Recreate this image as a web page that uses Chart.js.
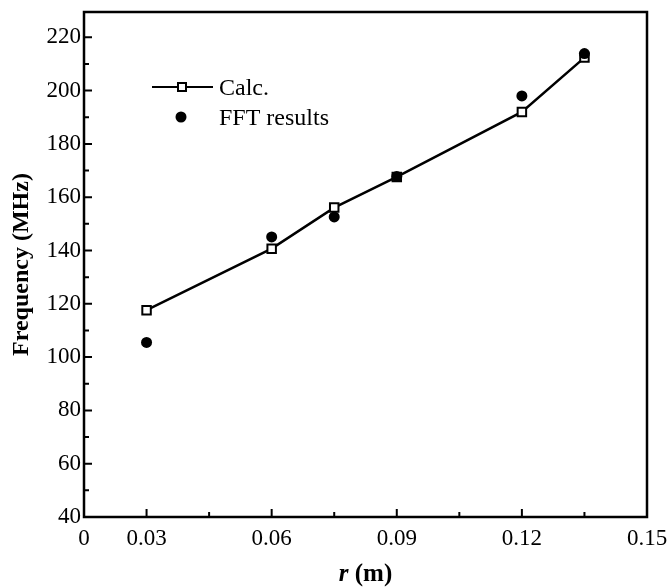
<!DOCTYPE html>
<html>
<head>
<meta charset="utf-8">
<script src="https://cdn.jsdelivr.net/npm/chart.js@4.4.1/dist/chart.umd.min.js"></script>
<style>
    html, body { margin: 0; padding: 0; background: #fff; }
    #wrap { width: 671px; height: 587px; }
</style>
</head>
<body>
<div id="wrap"><canvas id="chart"></canvas></div>
<script>
// datos
const rValues = [0.03, 0.06, 0.075, 0.09, 0.12, 0.135];
const calcFreq = [117.6, 140.7, 156.1, 167.6, 192.0, 212.4];
const fftFreq = [105.5, 145.1, 152.6, 167.8, 198.0, 213.9];

const xTicks = [0.015, 0.03, 0.045, 0.06, 0.075, 0.09, 0.105, 0.12, 0.135, 0.15];
const xTickLabels = ['0', '0.03', '', '0.06', '', '0.09', '', '0.12', '', '0.15'];
const yTicks = [40, 50, 60, 70, 80, 90, 100, 110, 120, 130, 140, 150, 160, 170, 180, 190, 200, 210, 220];
const yTickLabels = ['40', '', '60', '', '80', '', '100', '', '120', '', '140', '', '160', '', '180', '', '200', '', '220'];

const serif = "'Liberation Serif', 'Times New Roman', serif";

// marco, marcas hacia dentro, leyenda y títulos de ejes
const framePlugin = {
    id: 'frame',
    afterDraw(chart) {
        const ctx = chart.ctx;
        const a = chart.chartArea;
        const xs = chart.scales.x;
        const ys = chart.scales.y;
        ctx.save();
        ctx.strokeStyle = '#000';
        ctx.lineWidth = 2.5;
        ctx.strokeRect(a.left, a.top, a.right - a.left, a.bottom - a.top);

        ctx.lineWidth = 2;
        ctx.beginPath();
        xTicks.forEach((v, i) => {
            if (i === 0 || i === xTicks.length - 1) return;
            let px = xs.getPixelForValue(v);
            let len = xTickLabels[i] ? 8 : 5;
            ctx.moveTo(px, a.bottom);
            ctx.lineTo(px, a.bottom - len);
        });
        yTicks.forEach((v, i) => {
            if (i === 0) return;
            let py = ys.getPixelForValue(v);
            let len = yTickLabels[i] ? 8 : 5;
            ctx.moveTo(a.left, py);
            ctx.lineTo(a.left + len, py);
        });
        ctx.stroke();

        // leyenda
        ctx.lineWidth = 2;
        ctx.beginPath();
        ctx.moveTo(152, 87);
        ctx.lineTo(213, 87);
        ctx.stroke();
        ctx.fillStyle = '#fff';
        ctx.fillRect(178, 83, 8, 8);
        ctx.strokeRect(178, 83, 8, 8);
        ctx.fillStyle = '#000';
        ctx.beginPath();
        ctx.arc(181, 117, 5.5, 0, Math.PI * 2);
        ctx.fill();
        ctx.font = "24px " + serif;
        ctx.textBaseline = 'middle';
        ctx.textAlign = 'left';
        ctx.fillText('Calc.', 219, 89);
        ctx.fillText('FFT results', 219, 119);

        // título eje x: r en cursiva
        ctx.font = "bold italic 25px " + serif;
        let w1 = ctx.measureText('r').width;
        ctx.font = "bold 25px " + serif;
        let w2 = ctx.measureText(' (m)').width;
        let cx = (a.left + a.right) / 2;
        let sx = cx - (w1 + w2) / 2;
        ctx.font = "bold italic 25px " + serif;
        ctx.fillText('r', sx, 575);
        ctx.font = "bold 25px " + serif;
        ctx.fillText(' (m)', sx + w1, 575);

        // título eje y
        ctx.translate(22, (a.top + a.bottom) / 2);
        ctx.rotate(-Math.PI / 2);
        ctx.textAlign = 'center';
        ctx.font = "bold 24px " + serif;
        ctx.fillText('Frequency (MHz)', 0, 0);
        ctx.restore();
    }
};

let ctxChart = document.getElementById('chart').getContext('2d');
new Chart(ctxChart, {
    type: 'line',
    data: {
        datasets: [{
            label: 'FFT results',
            data: rValues.map((r, i) => ({ x: r, y: fftFreq[i] })),
            showLine: false,
            pointStyle: 'circle',
            pointRadius: 5.5,
            pointBorderWidth: 0,
            pointBackgroundColor: '#000',
            pointBorderColor: '#000',
            order: 0
        }, {
            label: 'Calc.',
            data: rValues.map((r, i) => ({ x: r, y: calcFreq[i] })),
            borderColor: '#000',
            borderWidth: 2.5,
            pointStyle: 'rect',
            pointRadius: 6,
            pointBorderWidth: 2,
            pointBackgroundColor: '#fff',
            pointBorderColor: '#000',
            tension: 0,
            order: 1
        }]
    },
    options: {
        responsive: true,
        maintainAspectRatio: false,
        animation: { duration: 0 },
        layout: { padding: { top: 12, right: 24, left: 0, bottom: 0 } },
        plugins: {
            legend: { display: false },
            tooltip: { enabled: false }
        },
        scales: {
            x: {
                type: 'linear',
                min: 0.015,
                max: 0.15,
                afterBuildTicks: scale => { scale.ticks = xTicks.map(v => ({ value: v })); },
                afterFit: scale => {
                    scale.height = 70;
                    scale.paddingLeft = 0;
                    scale.paddingRight = 0;
                },
                grid: { display: false, drawTicks: false },
                border: { display: false },
                ticks: {
                    autoSkip: false,
                    maxRotation: 0,
                    padding: 8,
                    color: '#000',
                    font: { family: serif, size: 23 },
                    callback: (v, i) => xTickLabels[i]
                }
            },
            y: {
                min: 40,
                max: 229.5,
                afterBuildTicks: scale => { scale.ticks = yTicks.map(v => ({ value: v })); },
                afterFit: scale => {
                    scale.width = 84;
                    scale.paddingTop = 0;
                    scale.paddingBottom = 0;
                },
                grid: { display: false, drawTicks: false },
                border: { display: false },
                ticks: {
                    autoSkip: false,
                    padding: 3,
                    color: '#000',
                    font: { family: serif, size: 23 },
                    callback: (v, i) => yTickLabels[i]
                }
            }
        }
    },
    plugins: [framePlugin]
});
</script>
</body>
</html>
